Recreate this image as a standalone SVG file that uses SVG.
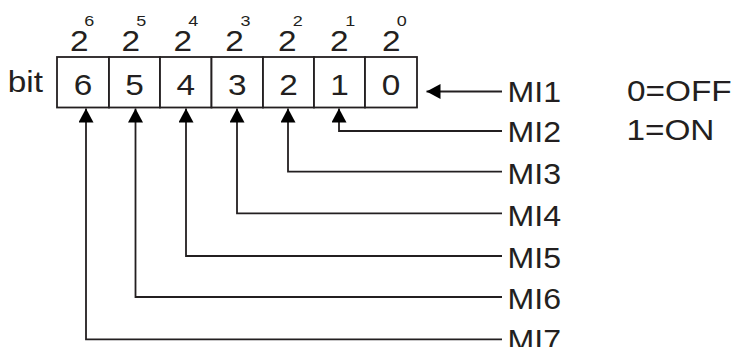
<svg xmlns="http://www.w3.org/2000/svg" width="732" height="347" viewBox="0 0 732 347">
<style>
  text { font-family: "Liberation Sans", Arial, sans-serif; fill: #231f20; }
  .big { font-size: 29px; text-anchor: middle; }
  .exp { font-size: 15px; text-anchor: middle; }
  .lbl { font-size: 30px; }
  .leg { font-size: 29px; }
  .cell { fill: #fff; stroke: #231f20; stroke-width: 1.8; }
  .wire { fill: none; stroke: #231f20; stroke-width: 1.8; }
</style>
<defs>
  <marker id="ah" markerUnits="userSpaceOnUse" markerWidth="15" markerHeight="15" refX="14" refY="7.5" orient="auto">
    <path d="M0,0 L14,7.5 L0,15 z" fill="#000"/>
  </marker>
</defs>
<rect width="732" height="347" fill="#fff"/>

<g id="weights">
  <g transform="translate(79.2,51) scale(1.15,1)"><text class="big">2</text></g>
  <g transform="translate(130.8,51) scale(1.15,1)"><text class="big">2</text></g>
  <g transform="translate(182.8,51) scale(1.15,1)"><text class="big">2</text></g>
  <g transform="translate(234.5,51) scale(1.15,1)"><text class="big">2</text></g>
  <g transform="translate(287.2,51) scale(1.15,1)"><text class="big">2</text></g>
  <g transform="translate(339.2,51) scale(1.15,1)"><text class="big">2</text></g>
  <g transform="translate(391.3,51) scale(1.15,1)"><text class="big">2</text></g>
  <g transform="translate(89.2,26) scale(1.2,1)"><text class="exp">6</text></g>
  <g transform="translate(141.2,26) scale(1.2,1)"><text class="exp">5</text></g>
  <g transform="translate(193.3,26) scale(1.2,1)"><text class="exp">4</text></g>
  <g transform="translate(245.4,26) scale(1.2,1)"><text class="exp">3</text></g>
  <g transform="translate(297.8,26) scale(1.2,1)"><text class="exp">2</text></g>
  <g transform="translate(350.3,26) scale(1.2,1)"><text class="exp">1</text></g>
  <g transform="translate(401.7,26) scale(1.2,1)"><text class="exp">0</text></g>
</g>

<g id="bit-label" transform="translate(7.8,92) scale(1.15,1)"><text class="leg">bit</text></g>

<g id="bit6"><rect class="cell" x="57" y="57" width="52" height="50.5"/><g transform="translate(83,94.5) scale(1.15,1)"><text class="big">6</text></g></g>
<g id="bit5"><rect class="cell" x="109" y="57" width="51" height="50.5"/><g transform="translate(134.5,94.5) scale(1.15,1)"><text class="big">5</text></g></g>
<g id="bit4"><rect class="cell" x="160" y="57" width="51.5" height="50.5"/><g transform="translate(185.75,94.5) scale(1.15,1)"><text class="big">4</text></g></g>
<g id="bit3"><rect class="cell" x="211.5" y="57" width="51.5" height="50.5"/><g transform="translate(237.25,94.5) scale(1.15,1)"><text class="big">3</text></g></g>
<g id="bit2"><rect class="cell" x="263" y="57" width="51" height="50.5"/><g transform="translate(288.5,94.5) scale(1.15,1)"><text class="big">2</text></g></g>
<g id="bit1"><rect class="cell" x="314" y="57" width="51" height="50.5"/><g transform="translate(339.5,94.5) scale(1.15,1)"><text class="big">1</text></g></g>
<g id="bit0"><rect class="cell" x="365" y="57" width="52" height="50.5"/><g transform="translate(391,94.5) scale(1.15,1)"><text class="big">0</text></g></g>

<g id="connectors">
  <path class="wire" d="M502,91.5 H426.5" marker-end="url(#ah)"/>
  <path class="wire" d="M502,131 H339 V108.5" marker-end="url(#ah)"/>
  <path class="wire" d="M502,171.7 H288 V108.5" marker-end="url(#ah)"/>
  <path class="wire" d="M502,213.3 H237 V108.5" marker-end="url(#ah)"/>
  <path class="wire" d="M502,256 H186 V108.5" marker-end="url(#ah)"/>
  <path class="wire" d="M502,297 H135.5 V108.5" marker-end="url(#ah)"/>
  <path class="wire" d="M502,339.3 H86 V108.5" marker-end="url(#ah)"/>
</g>

<g id="inputs">
  <g id="MI1" transform="translate(507.6,101.5) scale(1.07,1)"><text class="lbl">MI1</text></g>
  <g id="MI2" transform="translate(507.6,141.5) scale(1.07,1)"><text class="lbl">MI2</text></g>
  <g id="MI3" transform="translate(507.6,183.5) scale(1.07,1)"><text class="lbl">MI3</text></g>
  <g id="MI4" transform="translate(507.6,225.5) scale(1.07,1)"><text class="lbl">MI4</text></g>
  <g id="MI5" transform="translate(507.6,268) scale(1.07,1)"><text class="lbl">MI5</text></g>
  <g id="MI6" transform="translate(507.6,308.5) scale(1.07,1)"><text class="lbl">MI6</text></g>
  <g id="MI7" transform="translate(507.6,350) scale(1.07,1)"><text class="lbl">MI7</text></g>
</g>

<g id="legend">
  <g transform="translate(627,100.5) scale(1.15,1)"><text class="leg">0=OFF</text></g>
  <g transform="translate(626.4,140) scale(1.15,1)"><text class="leg">1=ON</text></g>
</g>
</svg>
